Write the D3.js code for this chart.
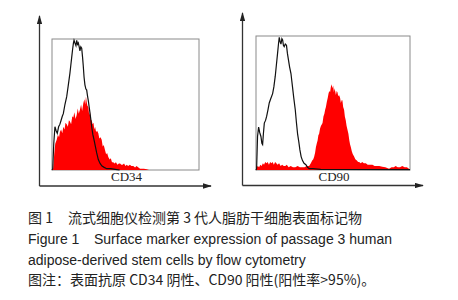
<!DOCTYPE html>
<html>
<head>
<meta charset="utf-8">
<script src="https://d3js.org/d3.v7.min.js"></script>
<style>
    body { margin: 0; background: #fff; }
    .marker-label { font-family: "Liberation Serif", "Times New Roman", serif; font-size: 13px; fill: #222; }
    .caption { font-family: "Liberation Sans", Arial, "Noto Sans CJK SC", sans-serif; font-size: 14px; fill: #222; }
    .caption-cn { font-family: "Noto Sans CJK SC", "Liberation Sans", sans-serif; font-size: 14px; fill: #222; }
</style>
</head>
<body>
<svg id="vis"></svg>
<script>
    var width = 458,
        height = 300;

    // histogram data: [channel (0-1000), relative count (0-100)]
    var cd34Isotype = [[0,0],[5,1],[12,20],[20,33],[28,30],[36,28],[45,33],[54,35],[62,38],[70,41],[77,43],[88,50],[100,56],[110,64],[122,74],[128,80],[134,86],[140,92],[146,97],[150,99],[156,97],[163,95],[168,99],[174,96],[179,97],[185,94],[190,91],[196,94],[202,93],[208,86],[213,79],[218,71],[224,65],[230,62],[236,61],[241,57],[247,53],[253,48],[259,43],[265,38],[270,33],[278,27],[286,23],[295,18],[304,13],[315,8],[327,5],[340,3],[355,2],[372,1],[400,1],[430,0.5],[460,0]];
    var cd34Stain = [[0,0],[8,1],[15,12],[22,20],[32,23],[40,27],[48,25],[54,29],[62,31],[70,28],[77,33],[85,31],[92,36],[100,35],[108,33],[115,38],[122,37],[130,35],[138,41],[145,40],[152,44],[160,39],[168,42],[175,47],[182,43],[190,46],[198,50],[205,45],[213,51],[220,54],[226,50],[231,56],[236,52],[241,49],[247,48],[253,42],[259,44],[265,38],[270,38],[276,35],[282,36],[288,31],[293,33],[300,29],[307,30],[315,28],[322,24],[330,25],[338,23],[345,18],[352,19],[361,15],[368,12],[375,13],[383,10],[392,8],[400,9],[408,6],[417,6],[425,5],[435,6],[445,4],[455,5],[463,5],[472,4],[480,4],[490,5],[500,3],[508,4],[518,3],[530,4],[540,3],[553,3],[565,2],[575,3],[588,2],[599,1],[610,1],[625,1],[644,0.5],[660,0]];
    var cd90Isotype = [[0,0],[4,1],[10,25],[17,32],[24,28],[32,25],[38,20],[43,19],[48,27],[54,35],[62,37],[69,40],[78,45],[86,50],[95,53],[108,57],[116,62],[125,70],[132,78],[140,87],[146,94],[151,99],[156,96],[162,94],[168,98],[173,97],[178,93],[183,92],[190,94],[198,93],[204,87],[211,82],[218,77],[227,72],[232,67],[237,62],[245,54],[255,45],[262,36],[270,27],[278,21],[285,15],[293,10],[302,7],[312,5],[324,4],[335,2],[345,1],[370,1],[420,0.5],[1000,0.3]];
    var cd90Stain = [[0,0],[4,2],[12,3],[20,2],[28,4],[36,3],[45,5],[52,4],[60,6],[68,5],[76,6],[84,4],[92,6],[100,5],[108,6],[116,4],[124,6],[132,5],[140,4],[150,5],[160,3],[170,4],[180,3],[190,3],[200,4],[212,2],[225,3],[240,2],[255,2],[270,3],[285,2],[300,2],[315,2],[330,3],[345,3],[356,5],[365,7],[372,8],[378,10],[384,13],[389,17],[395,20],[400,22],[405,26],[410,27],[416,31],[422,33],[427,34],[432,35],[438,40],[444,42],[449,45],[454,47],[460,51],[466,54],[471,57],[476,59],[481,58],[486,62],[491,64],[496,61],[501,63],[506,58],[510,61],[514,59],[519,56],[524,59],[529,58],[534,55],[539,56],[546,54],[551,50],[556,52],[561,52],[566,47],[572,45],[577,40],[583,37],[588,33],[594,30],[600,27],[606,22],[611,19],[616,17],[622,14],[628,12],[637,10],[645,8],[655,7],[663,6],[670,6],[680,5],[690,6],[700,5],[713,5],[725,4],[740,4],[756,4],[770,3],[785,3],[800,3],[820,2.5],[840,2],[864,1],[880,2],[895,2],[907,3],[920,2],[935,2],[950,3],[965,2],[980,2],[993,1],[1000,0]];

    var markerNames = ["CD34", "CD90"];

    var captionLines = [
        ["图 1", "流式细胞仪检测第 3 代人脂肪干细胞表面标记物"],
        ["Figure 1", "Surface marker expression of passage 3 human"],
        ["adipose-derived stem cells by flow cytometry"],
        ["图注：表面抗原 CD34 阴性、CD90 阳性(阳性率>95%)。"]
    ];

    // panel layout
    var panels = [
        { name: markerNames[0], iso: cd34Isotype, stain: cd34Stain,
          box: { x0: 52, x1: 199, y0: 39, y1: 170 },
          axis: { x: 39.5, top: 16, y: 186, right: 211 } },
        { name: markerNames[1], iso: cd90Isotype, stain: cd90Stain,
          box: { x0: 256, x1: 410, y0: 36, y1: 170 },
          axis: { x: 242.5, top: 13, y: 185.5, right: 423 } }
    ];

    var svg = d3.select("#vis").attr("width", width).attr("height", height);
    svg.append("rect").attr("width", width).attr("height", height).attr("fill", "#fff");

    svg.append("defs").append("marker")
        .attr("id", "arrow")
        .attr("viewBox", "0 0 10 6")
        .attr("refX", 9)
        .attr("refY", 3)
        .attr("markerWidth", 9)
        .attr("markerHeight", 5.5)
        .attr("markerUnits", "userSpaceOnUse")
        .attr("orient", "auto")
        .append("path")
        .attr("d", "M0,0L10,3L0,6Z")
        .attr("fill", "#222");

    panels.forEach(function (p) {
        var g = svg.append("g");
        var x = d3.scaleLinear().domain([0, 1000]).range([p.box.x0, p.box.x1]);
        var y = d3.scaleLinear().domain([0, 100]).range([p.box.y1, p.box.y0]);

        // frame
        g.append("rect")
            .attr("x", p.box.x0)
            .attr("y", p.box.y0)
            .attr("width", p.box.x1 - p.box.x0)
            .attr("height", p.box.y1 - p.box.y0)
            .attr("fill", "none")
            .attr("stroke", "#8a8a8a")
            .attr("stroke-width", 1);

        // stained histogram (red filled)
        var area = d3.area()
            .x(function (d) { return x(d[0]); })
            .y0(y(0))
            .y1(function (d) { return y(d[1]); });
        g.append("path")
            .datum(p.stain)
            .attr("d", area)
            .attr("fill", "#ff0000");

        // isotype control (black line)
        var line = d3.line()
            .x(function (d) { return x(d[0]); })
            .y(function (d) { return y(d[1]); });
        g.append("path")
            .datum(p.iso)
            .attr("d", line)
            .attr("fill", "none")
            .attr("stroke", "#111")
            .attr("stroke-width", 1.2);

        // axes with arrows
        g.append("line")
            .attr("x1", p.axis.x).attr("y1", p.axis.y)
            .attr("x2", p.axis.x).attr("y2", p.axis.top)
            .attr("stroke", "#333").attr("stroke-width", 1.3)
            .attr("marker-end", "url(#arrow)");
        g.append("line")
            .attr("x1", p.axis.x).attr("y1", p.axis.y)
            .attr("x2", p.axis.right).attr("y2", p.axis.y)
            .attr("stroke", "#333").attr("stroke-width", 1.3)
            .attr("marker-end", "url(#arrow)");

        g.append("text")
            .attr("class", "marker-label")
            .attr("x", (p.box.x0 + p.box.x1) / 2 + (p.name === "CD34" ? 1 : 1))
            .attr("y", 181)
            .attr("text-anchor", "middle")
            .text(p.name);
    });

    // caption
    var lineY = [223, 244, 265, 285];
    captionLines.forEach(function (parts, i) {
        var cls = /[\u4e00-\u9fff]/.test(parts.join("")) ? "caption-cn" : "caption";
        svg.append("text")
            .attr("class", cls)
            .attr("x", 28)
            .attr("y", lineY[i])
            .text(parts[0]);
        if (parts.length > 1) {
            svg.append("text")
                .attr("class", cls)
                .attr("x", i === 0 ? 68 : 94)
                .attr("y", lineY[i])
                .text(parts[1]);
        }
    });
</script>
</body>
</html>
